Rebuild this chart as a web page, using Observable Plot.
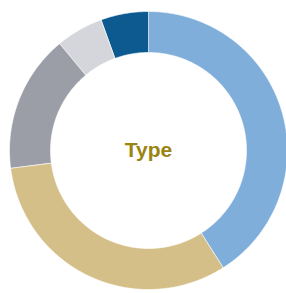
<!DOCTYPE html>
<html>
<head>
<meta charset="utf-8">
<script src="https://cdn.jsdelivr.net/npm/d3@7"></script>
<script src="https://cdn.jsdelivr.net/npm/@observablehq/plot@0.6"></script>
<style>
  html, body { margin: 0; padding: 0; background: #fff; overflow: hidden; }
</style>
</head>
<body>
<div id="chart"></div>
<script>
const categories = ["A", "B", "C", "D", "E"];
const values = [41, 32, 16, 5.5, 5.5];
const colors = ["#80aedb", "#d5bf89", "#9b9ea6", "#d4d6db", "#0c5a8f"];
const centerLabel = "Type";

const total = d3.sum(values);
const rOuter = 1, rInner = 0.705;
const pts = [];
let acc = 0;
categories.forEach((c, i) => {
  const a0 = acc / total * 2 * Math.PI;
  acc += values[i];
  const a1 = acc / total * 2 * Math.PI;
  const n = Math.max(4, Math.ceil((a1 - a0) / (Math.PI / 180)));
  for (let k = 0; k <= n; k++) {
    const a = a0 + (a1 - a0) * k / n;
    pts.push({cat: c, x: rOuter * Math.sin(a), y: rOuter * Math.cos(a)});
  }
  for (let k = n; k >= 0; k--) {
    const a = a0 + (a1 - a0) * k / n;
    pts.push({cat: c, x: rInner * Math.sin(a), y: rInner * Math.cos(a)});
  }
});

const chart = Plot.plot({
  width: 286,
  height: 293,
  margin: 0,
  x: {domain: [-1, 1], range: [9, 287], axis: null},
  y: {domain: [-1, 1], range: [289, 11], axis: null},
  color: {domain: categories, range: colors},
  marks: [
    Plot.line(pts, {x: "x", y: "y", z: "cat", fill: "cat", stroke: "white", strokeWidth: 0.6, curve: "linear-closed"}),
    Plot.text([centerLabel], {x: () => 0, y: () => 0, text: d => d, fill: "#9a8412", fontSize: 21, fontWeight: "bold",
      fontFamily: "'Liberation Sans', Arial, sans-serif"})
  ]
});
document.getElementById("chart").appendChild(chart);
</script>
</body>
</html>
